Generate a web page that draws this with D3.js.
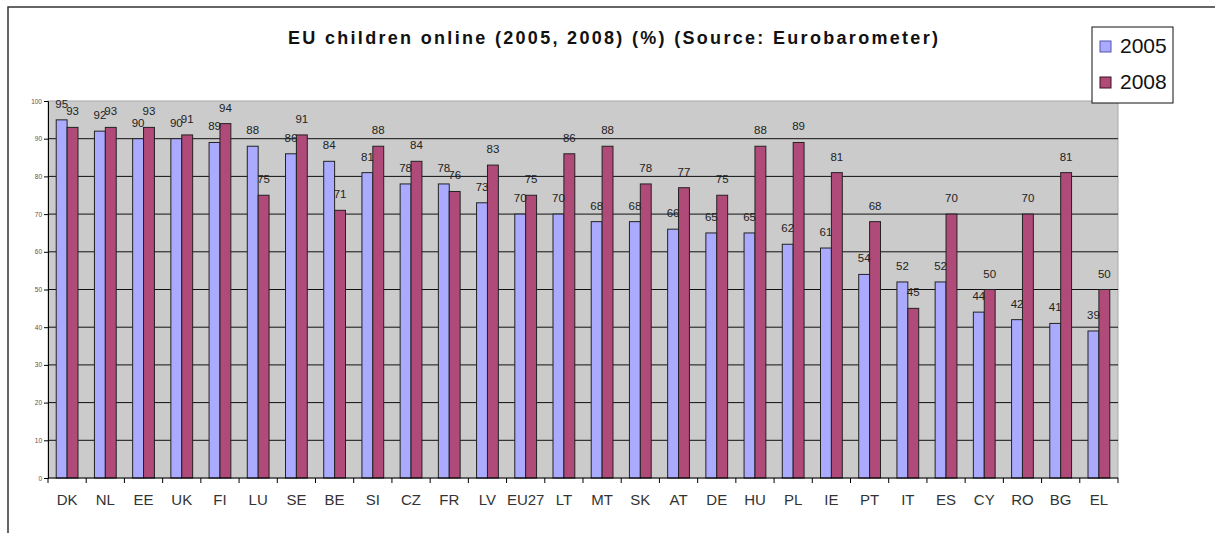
<!DOCTYPE html>
<html>
<head>
<meta charset="utf-8">
<script src="https://cdn.jsdelivr.net/npm/d3@7"></script>
<style>
  body { margin: 0; background: #fff; }
  svg { display: block; font-family: "Liberation Sans", Arial, sans-serif; }
</style>
</head>
<body>
<svg width="1215" height="533"></svg>
<script>
// data
var countries = ["DK", "NL", "EE", "UK", "FI", "LU", "SE", "BE", "SI", "CZ", "FR", "LV", "EU27", "LT",
    "MT", "SK", "AT", "DE", "HU", "PL", "IE", "PT", "IT", "ES", "CY", "RO", "BG", "EL"];
var years = ["2005", "2008"];
var values2005 = [95, 92, 90, 90, 89, 88, 86, 84, 81, 78, 78, 73, 70, 70, 68, 68, 66, 65, 65, 62, 61, 54, 52, 52, 44, 42, 41, 39];
var values2008 = [93, 93, 93, 91, 94, 75, 91, 71, 88, 84, 76, 83, 75, 86, 88, 78, 77, 75, 88, 89, 81, 68, 45, 70, 50, 70, 81, 50];
var yTicks = [0, 10, 20, 30, 40, 50, 60, 70, 80, 90, 100];

var colors = { "2005": "#aaaaff", "2008": "#b04a78" };

var data = countries.map(function (c, i) {
    return { country: c, values: [{ year: "2005", v: values2005[i] }, { year: "2008", v: values2008[i] }] };
});

var svg = d3.select("svg");

// outer frame (only top and left edges visible)
svg.append("path")
    .attr("d", "M8,533 L8,7 L1215,7")
    .attr("fill", "none")
    .attr("stroke", "#333")
    .attr("stroke-width", 1.5);

var margin = { left: 48, right: 1118, top: 101, bottom: 478 };

var x0 = d3.scaleBand()
    .domain(countries)
    .range([margin.left, margin.right])
    .paddingInner(0.43)
    .paddingOuter(0.215);

var x1 = d3.scaleBand()
    .domain(years)
    .range([0, x0.bandwidth()]);

var y = d3.scaleLinear()
    .domain([0, 100])
    .range([margin.bottom, margin.top]);

// plot background
svg.append("rect")
    .attr("x", margin.left)
    .attr("y", margin.top)
    .attr("width", margin.right - margin.left)
    .attr("height", margin.bottom - margin.top)
    .attr("fill", "#cbcbcb")
    .attr("stroke", "#a8a8a8")
    .attr("stroke-width", 1);

// grid lines
svg.append("g")
    .selectAll("line")
    .data(yTicks.filter(function (d) { return d > 0 && d < 100; }))
    .enter()
    .append("line")
    .attr("x1", margin.left)
    .attr("x2", margin.right)
    .attr("y1", function (d) { return y(d); })
    .attr("y2", function (d) { return y(d); })
    .attr("stroke", "#111")
    .attr("stroke-width", 1);

// bars
var groups = svg.append("g")
    .selectAll("g")
    .data(data)
    .enter()
    .append("g")
    .attr("transform", function (d) { return "translate(" + x0(d.country) + ",0)"; });

groups.selectAll("rect")
    .data(function (d) { return d.values; })
    .enter()
    .append("rect")
    .attr("x", function (d) { return x1(d.year); })
    .attr("width", x1.bandwidth())
    .attr("y", function (d) { return y(d.v); })
    .attr("height", function (d) { return y(0) - y(d.v); })
    .attr("fill", function (d) { return colors[d.year]; })
    .attr("stroke", "#222")
    .attr("stroke-width", 1);

// value labels
groups.selectAll("text")
    .data(function (d) { return d.values; })
    .enter()
    .append("text")
    .attr("x", function (d) { return x1(d.year) + x1.bandwidth() / 2; })
    .attr("y", function (d) { return y(d.v) - 12; })
    .attr("text-anchor", "middle")
    .attr("font-size", "11.5px")
    .attr("fill", "#222")
    .text(function (d) { return d.v; });

// y axis
var yAxis = svg.append("g")
    .attr("transform", "translate(" + margin.left + ",0)")
    .call(d3.axisLeft(y).tickValues(yTicks).tickSize(4).tickPadding(2));
yAxis.select(".domain").attr("stroke", "#000");
yAxis.selectAll(".tick line").attr("stroke", "#000");
yAxis.selectAll("text")
    .attr("font-size", "6.5px")
    .attr("fill", "#555")
    .attr("font-family", "Liberation Sans, Arial, sans-serif");

// x axis: tick marks at band boundaries
var xAxis = svg.append("g")
    .attr("transform", "translate(0," + margin.bottom + ")");
xAxis.append("line")
    .attr("x1", margin.left)
    .attr("x2", margin.right)
    .attr("stroke", "#000")
    .attr("stroke-width", 1);
var boundaries = countries.map(function (c) { return x0(c) - x0.step() * 0.215; });
boundaries.push(margin.right);
xAxis.selectAll(".tk")
    .data(boundaries)
    .enter()
    .append("line")
    .attr("class", "tk")
    .attr("x1", function (d) { return d; })
    .attr("x2", function (d) { return d; })
    .attr("y1", 0)
    .attr("y2", 5)
    .attr("stroke", "#000");
xAxis.selectAll("text")
    .data(countries)
    .enter()
    .append("text")
    .attr("x", function (d) { return x0(d) + x0.bandwidth() / 2; })
    .attr("y", 27)
    .attr("text-anchor", "middle")
    .attr("font-size", "15px")
    .attr("fill", "#333")
    .text(function (d) { return d; });

// title
svg.append("text")
    .attr("x", 288)
    .attr("y", 44)
    .attr("font-size", "18px")
    .attr("font-weight", "bold")
    .attr("fill", "#111")
    .attr("textLength", 650)
    .attr("lengthAdjust", "spacing")
    .text("EU children online (2005, 2008) (%) (Source: Eurobarometer)");

// legend
var legend = svg.append("g").attr("transform", "translate(1092,27)");
legend.append("rect")
    .attr("width", 81)
    .attr("height", 76)
    .attr("fill", "#fff")
    .attr("stroke", "#111")
    .attr("stroke-width", 1);
var items = legend.selectAll(".item")
    .data(years)
    .enter()
    .append("g")
    .attr("class", "item")
    .attr("transform", function (d, i) { return "translate(8," + (14 + i * 36) + ")"; });
items.append("rect")
    .attr("width", 11)
    .attr("height", 11)
    .attr("fill", function (d) { return colors[d]; })
    .attr("stroke", function (d) { return d == "2005" ? "#5555aa" : "#3a1020"; })
    .attr("stroke-width", 1);
items.append("text")
    .attr("x", 20)
    .attr("y", 12)
    .attr("font-size", "21px")
    .attr("fill", "#111")
    .text(function (d) { return d; });
</script>
</body>
</html>
